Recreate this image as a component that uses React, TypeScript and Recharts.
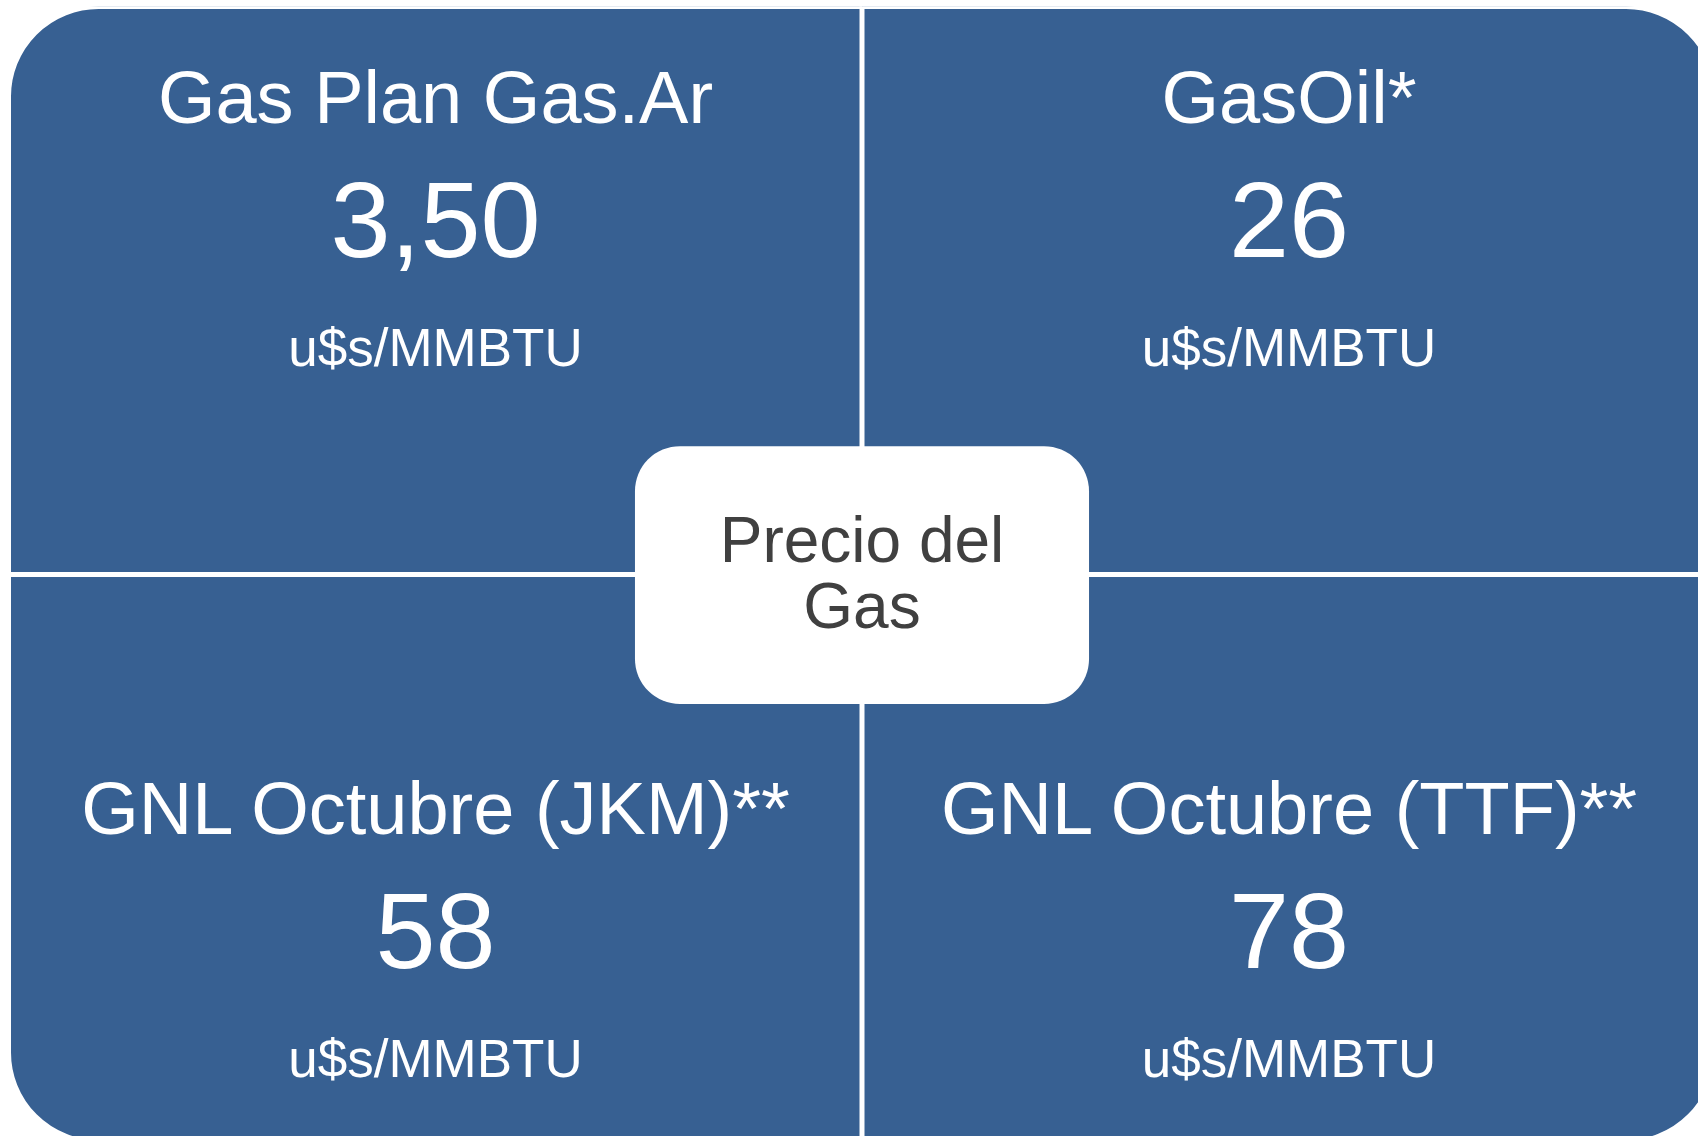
import React from "react";
import { BarChart, Bar, XAxis, YAxis, ReferenceArea } from "recharts";

// Matrix of gas prices (u$s/MMBTU) around the central "Precio del Gas" box
const columnas = ["Izquierda", "Derecha"];
const titulosArriba = ["Gas Plan Gas.Ar", "GasOil*"];
const preciosArriba = ["3,50", "26"];
const titulosAbajo = ["GNL Octubre (JKM)**", "GNL Octubre (TTF)**"];
const preciosAbajo = ["58", "78"];
const unidad = "u$s/MMBTU";
const textoCentro = ["Precio del", "Gas"];
// each quadrant takes the same share of the grid
const pesoFila = [1, 1];

const AZUL = "#376092";
const FONT = "'Liberation Sans', Arial, Helvetica, sans-serif";
const R = 90;
const ANCHO_CENTRO = 0.266; // share of the plot width taken by the centre box

const data = columnas.map((col, i) => ({
  col,
  abajo: pesoFila[0],
  arriba: pesoFila[1],
  tituloArriba: titulosArriba[i],
  precioArriba: preciosArriba[i],
  tituloAbajo: titulosAbajo[i],
  precioAbajo: preciosAbajo[i],
}));

// path with a radius per corner: [tl, tr, br, bl]
function roundedPath(x: number, y: number, w: number, h: number, r: number[]) {
  const [tl, tr, br, bl] = r;
  return (
    `M${x + tl},${y} H${x + w - tr} ` +
    (tr ? `A${tr},${tr} 0 0 1 ${x + w},${y + tr} ` : "") +
    `V${y + h - br} ` +
    (br ? `A${br},${br} 0 0 1 ${x + w - br},${y + h} ` : "") +
    `H${x + bl} ` +
    (bl ? `A${bl},${bl} 0 0 1 ${x},${y + h - bl} ` : "") +
    `V${y + tl} ` +
    (tl ? `A${tl},${tl} 0 0 1 ${x + tl},${y} ` : "") +
    "Z"
  );
}

function Quadrant(props: any, fila: "arriba" | "abajo") {
  const { x, y, width, height, index, payload } = props;
  const esArriba = fila === "arriba";
  const corners = esArriba
    ? index === 0 ? [R, 0, 0, 0] : [0, R, 0, 0]
    : index === 0 ? [0, 0, 0, R] : [0, 0, R, 0];
  const cx = x + width / 2;
  const base = esArriba ? y + 116.5 : y + 259.5;
  const titulo = esArriba ? payload.tituloArriba : payload.tituloAbajo;
  const precio = esArriba ? payload.precioArriba : payload.precioAbajo;
  return (
    <g>
      <path d={roundedPath(x, y, width, height, corners)} fill={AZUL} stroke="#ffffff" strokeWidth={5} />
      <text x={cx} y={base} textAnchor="middle" fill="#ffffff" fontFamily={FONT} fontSize={74}>
        {titulo}
      </text>
      <text x={cx} y={base + 134} textAnchor="middle" fill="#ffffff" fontFamily={FONT} fontSize={108}>
        {precio}
      </text>
      <text x={cx} y={base + 243} textAnchor="middle" fill="#ffffff" fontFamily={FONT} fontSize={53}>
        {unidad}
      </text>
    </g>
  );
}

function CenterBox(props: any) {
  const { x, y, width, height } = props;
  const cx = x + width / 2;
  const w = width * ANCHO_CENTRO;
  return (
    <g>
      <rect x={cx - w / 2} y={y} width={w} height={height} rx={45} ry={45} fill="#ffffff" />
      <text x={cx} y={y + 116} textAnchor="middle" fill="#404040" fontFamily={FONT} fontSize={64}>
        {textoCentro[0]}
      </text>
      <text x={cx} y={y + 182} textAnchor="middle" fill="#404040" fontFamily={FONT} fontSize={64}>
        {textoCentro[1]}
      </text>
    </g>
  );
}

export default function App() {
  return (
    <div
      style={{
        position: "fixed",
        left: 0,
        top: 0,
        width: 1698,
        height: 1136,
        overflow: "hidden",
        background: "#ffffff",
      }}
    >
      <BarChart
        width={1730}
        height={1150}
        data={data}
        margin={{ top: 6.5, right: 14.5, bottom: 7.5, left: 8.5 }}
        barCategoryGap={0}
        barGap={0}
      >
        <XAxis dataKey="col" type="category" hide />
        <YAxis type="number" domain={[0, 2]} allowDataOverflow hide />
        <Bar
          dataKey="abajo"
          stackId="q"
          isAnimationActive={false}
          shape={(p: any) => Quadrant(p, "abajo")}
        />
        <Bar
          dataKey="arriba"
          stackId="q"
          isAnimationActive={false}
          shape={(p: any) => Quadrant(p, "arriba")}
        />
        <ReferenceArea
          y1={0.772}
          y2={1.226}
          ifOverflow="visible"
          zIndex={1500}
          shape={CenterBox}
        />
      </BarChart>
    </div>
  );
}
